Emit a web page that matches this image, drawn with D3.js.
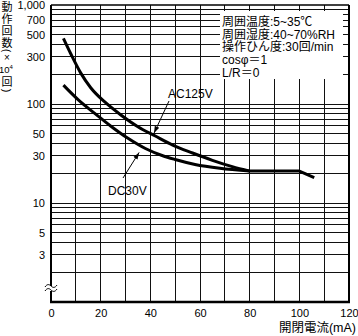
<!DOCTYPE html>
<html>
<head>
<meta charset="utf-8">
<script src="https://cdn.jsdelivr.net/npm/d3@7/dist/d3.min.js"></script>
<style>
  html, body { margin: 0; padding: 0; background: #fff; }
  svg { display: block; font-family: "Liberation Sans", Arial, "Noto Sans CJK JP", sans-serif; }
</style>
</head>
<body>
<svg id="chart" width="358" height="336"></svg>
<script>
// Switching current (mA) vs. operating life (x10^4 operations)
const acCurrent = [5, 8, 12, 16, 22, 28, 35, 42, 49, 57, 65, 73, 80];
const acLife    = [460, 320, 205, 146, 103, 78, 59, 47.5, 38.5, 32, 27, 23.3, 21];
const dcCurrent = [5, 11, 18, 24, 31, 38, 45, 50, 58, 68, 80];
const dcLife    = [155, 110, 79, 60, 45, 35.5, 30, 27.5, 24.5, 22.4, 21];
// common section once both curves meet
const tailCurrent = [80, 100, 106];
const tailLife    = [21, 21, 18];

const xTicks = [0, 20, 40, 60, 80, 100, 120];
const yTicks = [1000, 700, 500, 300, 100, 50, 30, 10, 5, 3];
const conditions = ["周囲温度:5~35℃", "周囲湿度:40~70%RH", "操作ひん度:30回/min", "cosφ＝1", "L/R＝0"];

const svg = d3.select("#chart");
const L = 51, R = 349, T = 5, B = 302;

const x = d3.scaleLinear().domain([0, 120]).range([L, R]);
const y = d3.scaleLog().domain([1, 1000]).range([B, T]);

// grid
const grid = svg.append("g").attr("stroke", "#111").attr("stroke-width", 1).attr("shape-rendering", "crispEdges");
grid.selectAll("line.v").data(d3.range(10, 120, 10)).join("line")
  .attr("x1", d => x(d)).attr("x2", d => x(d)).attr("y1", T).attr("y2", B);
grid.selectAll("line.h").data(y.ticks().filter(d => d > 1 && d < 1000)).join("line")
  .attr("x1", L).attr("x2", R).attr("y1", d => y(d)).attr("y2", d => y(d));

// frame
svg.append("line").attr("x1", L).attr("x2", R).attr("y1", T).attr("y2", T).attr("stroke", "#000").attr("stroke-width", 1.5);
svg.append("line").attr("x1", R).attr("x2", R).attr("y1", T).attr("y2", B).attr("stroke", "#000").attr("stroke-width", 2);
svg.append("line").attr("x1", L).attr("x2", L).attr("y1", T).attr("y2", B).attr("stroke", "#000").attr("stroke-width", 2);
svg.append("line").attr("x1", L - 1).attr("x2", R + 1).attr("y1", B).attr("y2", B).attr("stroke", "#000").attr("stroke-width", 2.5);

// axis break mark
svg.append("rect").attr("x", 48).attr("y", 286).attr("width", 7).attr("height", 5).attr("fill", "#fff");
[286, 290].forEach(yy => {
  svg.append("path")
    .attr("d", `M45,${yy + 1} C47,${yy - 2} 49,${yy - 2} 51,${yy} S55,${yy + 2} 57,${yy - 1}`)
    .attr("fill", "none").attr("stroke", "#000").attr("stroke-width", 1);
});

// condition box
svg.append("rect").attr("x", 220).attr("y", 11).attr("width", 123).attr("height", 68).attr("fill", "#fff");
svg.append("g").selectAll("text").data(conditions).join("text")
  .attr("x", 222).attr("y", (d, i) => 26 + i * 12.7)
  .attr("font-size", 12).attr("fill", "#000").text(d => d);

// curves
const line = d3.line().x(d => x(d[0])).y(d => y(d[1]));
const curve = d3.line().x(d => x(d[0])).y(d => y(d[1])).curve(d3.curveMonotoneX);
const drawCurve = (xs, ys, gen) => svg.append("path")
  .attr("d", gen(xs.map((v, i) => [v, ys[i]])))
  .attr("fill", "none").attr("stroke", "#000").attr("stroke-width", 3)
  .attr("stroke-linejoin", "round").attr("stroke-linecap", "butt");
drawCurve(acCurrent, acLife, curve);
drawCurve(dcCurrent, dcLife, curve);
drawCurve(tailCurrent, tailLife, line);

// leader lines with arrowheads
svg.append("defs").append("marker")
  .attr("id", "arr").attr("viewBox", "0 0 10 10").attr("refX", 10).attr("refY", 5)
  .attr("markerWidth", 7).attr("markerHeight", 7).attr("markerUnits", "userSpaceOnUse")
  .attr("orient", "auto")
  .append("path").attr("d", "M0,1.5 L10,5 L0,8.5 Z").attr("fill", "#000");

function leader(label, tx, ty, x0, y0, cx, cLife) {
  svg.append("line").attr("x1", x0).attr("y1", y0).attr("x2", x(cx)).attr("y2", y(cLife) + (y0 > y(cLife) ? 2 : -2))
    .attr("stroke", "#000").attr("stroke-width", 1).attr("marker-end", "url(#arr)");
  svg.append("text").attr("x", tx).attr("y", ty).attr("font-size", 12).attr("fill", "#000").text(label);
}
leader("AC125V", 168, 98, 169, 101, 41.5, 48.5);
leader("DC30V", 108, 195, 123, 178, 35.5, 34);

// axes labels
const xAxis = svg.append("g").attr("transform", `translate(0,${B})`)
  .call(d3.axisBottom(x).tickValues(xTicks).tickSize(0).tickPadding(7));
xAxis.select(".domain").remove();
xAxis.selectAll("text").attr("font-size", 11).attr("font-family", null).attr("fill", "#000");

const yAxis = svg.append("g").attr("transform", `translate(${L},0)`)
  .call(d3.axisLeft(y).tickValues(yTicks).tickFormat(d3.format(",")).tickSize(0).tickPadding(6));
yAxis.select(".domain").remove();
yAxis.selectAll("text").attr("font-size", 11).attr("font-family", null).attr("fill", "#000");

// x title
svg.append("text").attr("x", 356).attr("y", 332).attr("text-anchor", "end")
  .attr("font-size", 12.5).attr("fill", "#000").text("開閉電流(mA)");

// y title, stacked vertically; parentheses turned sideways
const yTitle = [
  { t: "動", cy: 7, size: 11 },
  { t: "作", cy: 19, size: 11 },
  { t: "回", cy: 31, size: 11 },
  { t: "数", cy: 42.5, size: 11 },
  { t: "(", cy: 50.5, size: 11, rot: 90 },
  { t: "×", cy: 57.7, size: 10 },
  { t: "10", sup: "4", cy: 69.5, size: 9.5 },
  { t: "回", cy: 82, size: 11 },
  { t: ")", cy: 90.5, size: 11, rot: 90 }
];
const tg = svg.append("g").attr("text-anchor", "middle").attr("fill", "#000");
yTitle.forEach(c => {
  const t = tg.append("text")
    .attr("dominant-baseline", "central")
    .attr("font-size", c.size)
    .attr("transform", `translate(7,${c.cy})` + (c.rot ? ` rotate(${c.rot})` : ""))
    .text(c.t);
  if (c.sup) {
    t.attr("dx", -1);
    t.append("tspan").attr("font-size", 6).attr("dy", -3).text(c.sup);
  }
});
</script>
</body>
</html>
